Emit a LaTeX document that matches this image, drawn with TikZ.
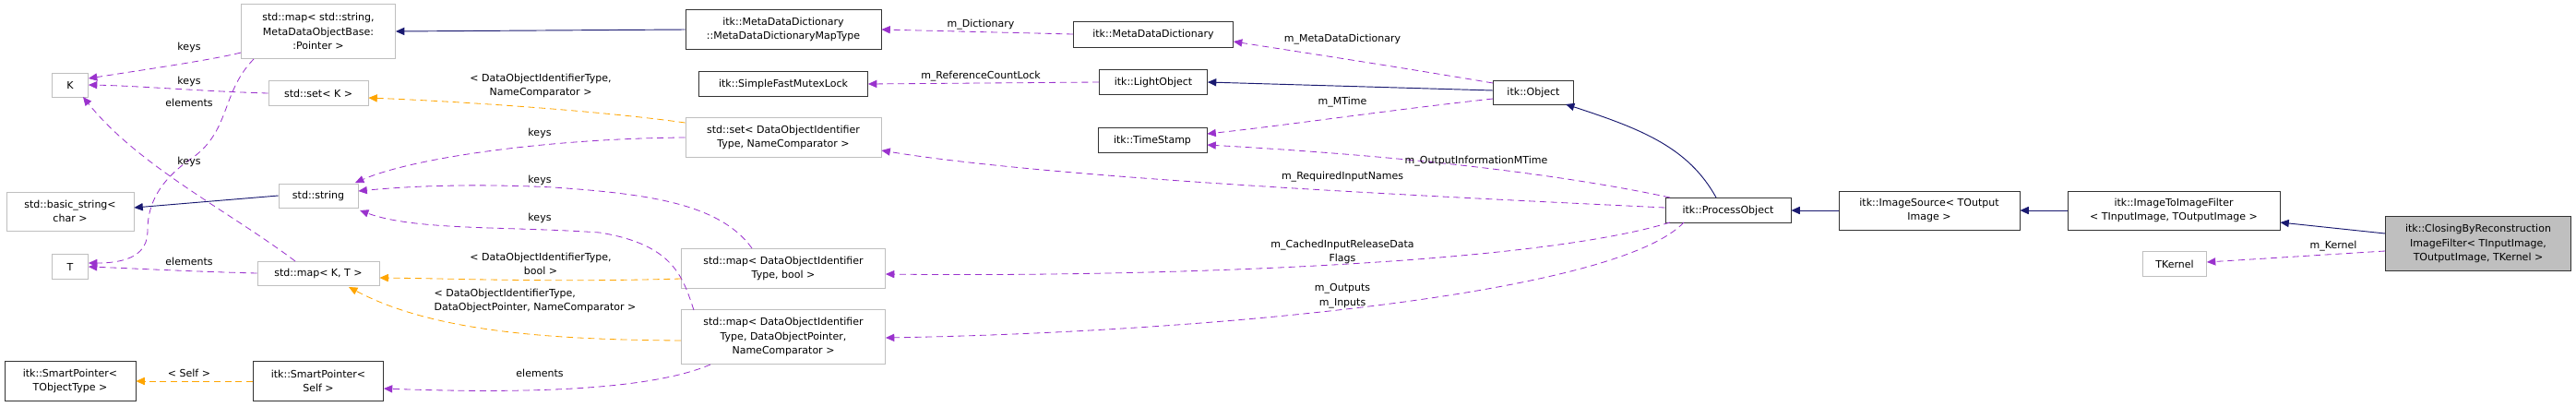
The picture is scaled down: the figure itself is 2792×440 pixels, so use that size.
\documentclass[tikz,border=0pt]{standalone}
\usepackage{fontspec}
\setmainfont{DejaVu Sans}
\usetikzlibrary{arrows.meta}
\definecolor{navy}{HTML}{191970}
\definecolor{purp}{HTML}{9A32CD}
\definecolor{orng}{HTML}{FFA500}
\begin{document}
\begin{tikzpicture}[x=0.03cm,y=-0.03cm,
  font=\fontsize{9.4}{13.4}\selectfont,
  box/.style 2 args={draw=black!80,line width=0.7pt,fill=white,inner sep=1pt,align=center,minimum width=#1*0.03cm,minimum height=#2*0.03cm},
  gbox/.style 2 args={box={#1}{#2},draw=black!25},
  inh/.style={draw=navy,line width=0.8pt,-{Triangle[length=8pt,width=7pt]}},
  use/.style={draw=purp,line width=0.7pt,dash pattern=on 6pt off 4pt,-{Triangle[length=8pt,width=7pt,fill=purp]}},
  tpl/.style={draw=orng,line width=0.7pt,dash pattern=on 6pt off 4pt,-{Triangle[length=8pt,width=7pt,fill=orng]}},
  lbl/.style={align=center,inner sep=0pt}]
\useasboundingbox (0,0) rectangle (2792,440);
% nodes
\node[gbox={167}{59}] (mapstr) at (345,34) {std::map{\textless} std::string,\\MetaDataObjectBase:\\:Pointer {\textgreater}};
\node[gbox={39}{26}] (K) at (76,92) {K};
\node[gbox={108}{27}] (setK) at (345,101) {std::set{\textless} K {\textgreater}};
\node[gbox={86}{26}] (str) at (345,212) {std::string};
\node[gbox={138}{42}] (bstr) at (76,229) {std::basic\_string{\textless}\\char {\textgreater}};
\node[gbox={39}{27}] (T) at (76,289) {T};
\node[gbox={132}{26}] (mapKT) at (345,296) {std::map{\textless} K, T {\textgreater}};
\node[box={142}{43}] (spT) at (76,413) {itk::SmartPointer{\textless}\\TObjectType {\textgreater}};
\node[box={141}{43}] (spS) at (345,413) {itk::SmartPointer{\textless}\\Self {\textgreater}};
\node[box={212}{43}] (maptype) at (849,32) {itk::MetaDataDictionary\\::MetaDataDictionaryMapType};
\node[box={173}{28}] (mdd) at (1250,37) {itk::MetaDataDictionary};
\node[box={183}{27}] (mutex) at (849,91) {itk::SimpleFastMutexLock};
\node[box={117}{27}] (light) at (1250,89) {itk::LightObject};
\node[box={118}{27}] (ts) at (1249,152) {itk::TimeStamp};
\node[gbox={212}{43}] (setD) at (849,149) {std::set{\textless} DataObjectIdentifier\\Type, NameComparator {\textgreater}};
\node[gbox={221}{43}] (mapB) at (849,291) {std::map{\textless} DataObjectIdentifier\\Type, bool {\textgreater}};
\node[gbox={221}{59}] (mapP) at (849,365) {std::map{\textless} DataObjectIdentifier\\Type, DataObjectPointer,\\NameComparator {\textgreater}};
\node[box={87}{26}] (obj) at (1662,100) {itk::Object};
\node[box={136}{27}] (po) at (1873,228) {itk::ProcessObject};
\node[box={196}{42}] (is) at (2091,228) {itk::ImageSource{\textless} TOutput\\Image {\textgreater}};
\node[box={230}{42}] (itif) at (2356,228) {itk::ImageToImageFilter\\{\textless} TInputImage, TOutputImage {\textgreater}};
\node[box={201}{59},fill=black!25] (cbr) at (2686,264) {itk::ClosingByReconstruction\\ImageFilter{\textless} TInputImage,\\TOutputImage, TKernel {\textgreater}};
\node[gbox={69}{27}] (tk) at (2357,286) {TKernel};
% edges
\draw[use] (mapstr.west |- 0,57) .. controls (230,65) and (140,78) .. (K.east |- 0,85);
\draw[use] (setK.west) .. controls (220,99) and (150,93) .. (K.east);
\draw[use] (275,64) .. controls (240,100) and (250,140) .. (210,170) .. controls (165,200) and (160,230) .. (160,250) .. controls (160,275) and (140,285) .. (T.east |- 0,285);
\draw[use] (320,283) .. controls (250,230) and (150,180) .. (90,105);
\draw[use] (mapKT.west) .. controls (200,294) and (150,291) .. (T.east);
\draw[inh] (str.west) -- (bstr.east |- 0,225);
\draw[tpl] (spS.west) -- (spT.east);
\draw[tpl] (setD.west |- 0,133) .. controls (650,120) and (500,110) .. (setK.east |- 0,106);
\draw[use] (setD.west) .. controls (600,150) and (450,170) .. (385,198);
\draw[use] (815,269) .. controls (780,220) and (700,210) .. (600,203) .. controls (500,198) and (430,203) .. (str.east |- 0,207);
\draw[use] (752,336) .. controls (740,300) and (730,265) .. (650,252) .. controls (550,245) and (450,250) .. (390,228);
\draw[tpl] (mapB.west |- 0,302) .. controls (600,306) and (500,302) .. (mapKT.east |- 0,301);
\draw[tpl] (mapP.west |- 0,369) .. controls (600,368) and (470,360) .. (378,311);
\draw[use] (770,395) .. controls (700,425) and (550,426) .. (spS.east |- 0,421);
\draw[inh] (maptype.west) -- (mapstr.east);
\draw[use] (mdd.west) -- (maptype.east);
\draw[use] (obj.west |- 0,90) .. controls (1500,70) and (1400,55) .. (mdd.east |- 0,45);
\draw[use] (light.west) -- (mutex.east);
\draw[inh] (obj.west |- 0,98) -- (light.east);
\draw[use] (obj.west |- 0,107) .. controls (1500,120) and (1400,135) .. (ts.east |- 0,145);
\draw[use] (1810,214) .. controls (1650,180) and (1450,165) .. (ts.east |- 0,157);
\draw[use] (po.west |- 0,225) .. controls (1600,215) and (1150,195) .. (setD.east |- 0,163);
\draw[use] (1810,241) .. controls (1650,290) and (1200,300) .. (mapB.east |- 0,297);
\draw[use] (1825,241) .. controls (1750,320) and (1300,360) .. (mapP.east |- 0,366);
\draw[inh] (1860,214) .. controls (1830,160) and (1780,140) .. (1697,113);
\draw[inh] (is.west) -- (po.east);
\draw[inh] (itif.west) -- (is.east);
\draw[inh] (cbr.west |- 0,253) -- (itif.east |- 0,241);
\draw[use] (cbr.west |- 0,272) -- (tk.east |- 0,284);
% labels
\node[lbl] (l1) at (205,51) {keys};
\node[lbl] (l2) at (205,88) {keys};
\node[lbl] (l3) at (205,111) {elements};
\node[lbl] (l4) at (205,175) {keys};
\node[lbl] (l5) at (205,283) {elements};
\node[lbl] (l6) at (205,404) {{\textless} Self {\textgreater}};
\node[lbl] (l7) at (586,93) {{\textless} DataObjectIdentifierType,\\NameComparator {\textgreater}};
\node[lbl] (l8) at (585,144) {keys};
\node[lbl] (l9) at (585,195) {keys};
\node[lbl] (l10) at (585,236) {keys};
\node[lbl] (l11) at (586,286) {{\textless} DataObjectIdentifierType,\\bool {\textgreater}};
\node[lbl,align=left] (l12) at (580,326) {{\textless} DataObjectIdentifierType,\\DataObjectPointer, NameComparator {\textgreater}};
\node[lbl] (l13) at (585,404) {elements};
\node[lbl] (l14) at (1063,27) {m\_Dictionary};
\node[lbl] (l15) at (1455,43) {m\_MetaDataDictionary};
\node[lbl] (l16) at (1063,83) {m\_ReferenceCountLock};
\node[lbl] (l17) at (1455,111) {m\_MTime};
\node[lbl] (l18) at (1600,175) {m\_OutputInformationMTime};
\node[lbl] (l19) at (1455,192) {m\_RequiredInputNames};
\node[lbl] (l20) at (1455,273) {m\_CachedInputReleaseData\\Flags};
\node[lbl] (l21) at (1455,321) {m\_Outputs\\m\_Inputs};
\node[lbl] (l22) at (2529,267) {m\_Kernel};
\end{tikzpicture}
\end{document}
